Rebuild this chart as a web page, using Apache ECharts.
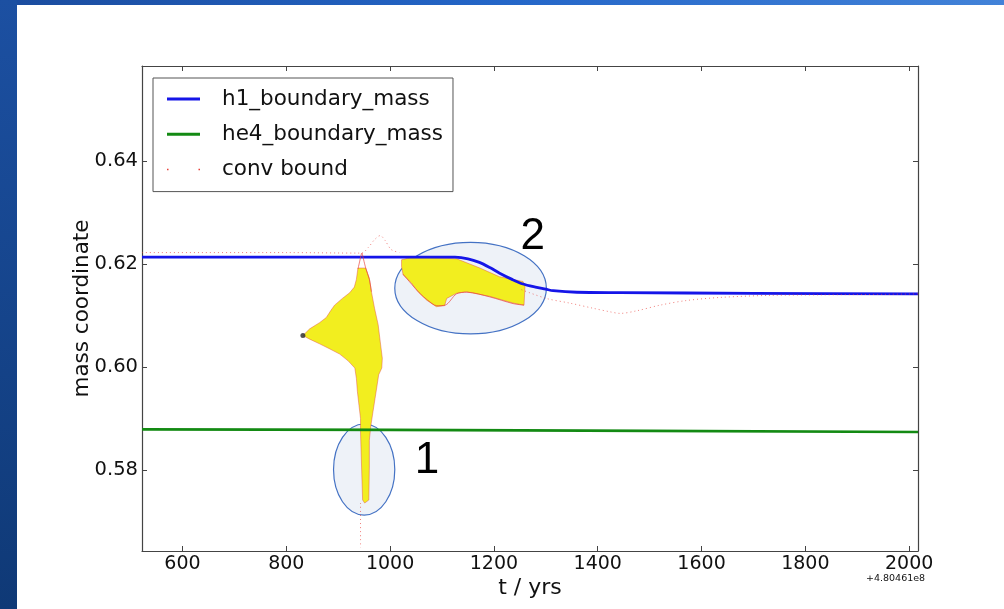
<!DOCTYPE html>
<html><head><meta charset="utf-8">
<script src="https://cdn.jsdelivr.net/npm/echarts@6/dist/echarts.min.js"></script>
<style>html,body{margin:0;padding:0;background:#fff}#c{width:1004px;height:609px}</style>
</head><body><div id="c"></div>
<script>
const xTicks = [600, 800, 1000, 1200, 1400, 1600, 1800, 2000];
const yTicks = [0.58, 0.60, 0.62, 0.64];
const xRange = [522, 2017];
const yRange = [0.5643, 0.6584];

const h1Boundary = [[522,0.6213],[900,0.6213],[1125,0.6213],[1150,0.6210],[1172,0.6203],[1192,0.6193],[1211,0.6182],[1235,0.6170],[1256,0.6161],[1280,0.6155],[1300,0.6151],[1314,0.6148],[1360,0.6145],[1443,0.61443],[1700,0.6143],[2017,0.6142]];
const he4Boundary = [[522,0.5879],[1000,0.5878],[1500,0.5876],[2017,0.5874]];

const convBoundFlat = [[522,0.6222],[800,0.6222],[945,0.6221],[958,0.6232],[970,0.6247],[981,0.6255],[990,0.6246],[1002,0.6228],[1018,0.6222]];
const convBoundApexL = [[945,0.6221],[938,0.6190]];
const convBoundApexR = [[946,0.6221],[953,0.6192],[960,0.6170],[964,0.6146]];
const convBoundLower2 = [[1025,0.6180],[1042,0.6160],[1056,0.6144],[1072,0.6130],[1090,0.6119],[1106,0.6120],[1128,0.6142],[1148,0.6145],[1192,0.6136],[1237,0.6123],[1258,0.6120]];
const convBoundTail = [[1253,0.6150],[1301,0.6133],[1346,0.6124],[1391,0.6114],[1424,0.6107],[1443,0.6104],[1475,0.6109],[1520,0.6120],[1571,0.6129],[1636,0.6135],[1732,0.6139],[1829,0.6140],[1957,0.6141],[2017,0.6142]];
const convBoundColumn = [[943,0.5736],[943,0.5650]];
const convCore = [[832,0.6061]];

const convRegion1 = [[953,0.6192],[960,0.6172],[964,0.6146],[970,0.6114],[977,0.6082],[981,0.6049],[985,0.6017],[984,0.5998],[978,0.5985],[975,0.5965],[971,0.5939],[967,0.5913],[963,0.5887],[960,0.5858],[960,0.5806],[959,0.5742],[951,0.5736],[947,0.5742],[945,0.5806],[943,0.5874],[943,0.5900],[940,0.5926],[937,0.5952],[935,0.5978],[932,0.5998],[919,0.6012],[903,0.6025],[884,0.6035],[864,0.6045],[845,0.6054],[832,0.6061],[845,0.6074],[864,0.6086],[877,0.6096],[886,0.6110],[893,0.6120],[908,0.6133],[922,0.6144],[931,0.6155],[935,0.6170],[938,0.6192]];
const convRegion2 = [[1022,0.6208],[1038,0.6212],[1076,0.6212],[1128,0.6210],[1173,0.6192],[1211,0.6175],[1256,0.6166],[1260,0.6159],[1258,0.6120],[1237,0.6124],[1192,0.6137],[1147,0.6146],[1128,0.6143],[1109,0.6133],[1105,0.6119],[1089,0.6117],[1070,0.6130],[1054,0.6146],[1041,0.6163],[1025,0.6179],[1022,0.6195]];

const highlightRegions = [
  {cx: 950, cy: 0.5801, rx: 59, ry: 0.00884, label: '1', lx: 1071, ly: 0.5818},
  {cx: 1155, cy: 0.6153, rx: 146, ry: 0.00889, label: '2', lx: 1275, ly: 0.6252}
];

const chart = echarts.init(document.getElementById('c'), null, {renderer: 'canvas'});
const AX = '#444';
const TXT = '#111';
const FONT = "'DejaVu Sans', sans-serif";

function polygonSeries(name, pts) {
  return {
    type: 'custom', name: name, z: 2, silent: true,
    data: [pts[0]],
    renderItem: function (params, api) {
      const points = pts.map(p => api.coord(p));
      return {type: 'polygon', shape: {points: points},
        style: {fill: '#f2ee1f', stroke: 'rgba(225,70,70,0.55)', lineWidth: 0.8, lineJoin: 'round'}};
    }
  };
}

const option = {
  backgroundColor: '#fff',
  animation: false,
  grid: {left: 142, top: 66, right: 86, bottom: 58, containLabel: false},
  legend: {
    left: 153, top: 78, orient: 'vertical',
    padding: [8, 10, 9, 14],
    backgroundColor: '#fff', borderColor: '#555', borderWidth: 1,
    itemWidth: 33, itemHeight: 3, itemGap: 9.3,
    textStyle: {fontFamily: FONT, fontSize: 21.5, color: TXT, lineHeight: 26, padding: [0, 0, 0, 17]},
    data: [
      {name: 'h1_boundary_mass', icon: 'rect'},
      {name: 'he4_boundary_mass', icon: 'rect'},
      {name: 'conv bound', icon: 'path://M0,0h1.5v1.5h-1.5z M31,0h1.5v1.5h-1.5z'}
    ],
    selectedMode: false
  },
  xAxis: [{
    type: 'value', min: xRange[0], max: xRange[1], position: 'bottom',
    axisLine: {show: true, lineStyle: {color: AX, width: 1.2}},
    axisTick: {show: true, inside: true, length: 5, customValues: xTicks, lineStyle: {color: AX}},
    axisLabel: {customValues: xTicks, formatter: v => String(v), fontFamily: FONT, fontSize: 19, color: TXT, margin: 4},
    splitLine: {show: false},
    name: 't / yrs', nameLocation: 'middle', nameGap: 26, nameMoveOverlap: false,
    nameTextStyle: {fontFamily: FONT, fontSize: 22, color: TXT}
  }, {
    type: 'value', min: xRange[0], max: xRange[1], position: 'top',
    axisLine: {show: true, lineStyle: {color: AX, width: 1.2}},
    axisTick: {show: true, inside: true, length: 5, customValues: xTicks, lineStyle: {color: AX}},
    axisLabel: {show: false}, splitLine: {show: false}
  }],
  yAxis: [{
    type: 'value', min: yRange[0], max: yRange[1], position: 'left',
    axisLine: {show: true, lineStyle: {color: AX, width: 1.2}},
    axisTick: {show: true, inside: true, length: 5, customValues: yTicks, lineStyle: {color: AX}},
    axisLabel: {customValues: yTicks, formatter: v => v.toFixed(2), fontFamily: FONT, fontSize: 19.5, color: TXT, margin: 4},
    splitLine: {show: false},
    name: 'mass coordinate', nameLocation: 'middle', nameGap: 49, nameMoveOverlap: false,
    nameTextStyle: {fontFamily: FONT, fontSize: 21.5, color: TXT}
  }, {
    type: 'value', min: yRange[0], max: yRange[1], position: 'right',
    axisLine: {show: true, lineStyle: {color: AX, width: 1.2}},
    axisTick: {show: true, inside: true, length: 5, customValues: yTicks, lineStyle: {color: AX}},
    axisLabel: {show: false}, splitLine: {show: false}
  }],
  graphic: [
    {type: 'rect', left: 0, top: 0, shape: {width: 1004, height: 5}, z: 100,
      style: {fill: {type: 'linear', x: 0, y: 0, x2: 1, y2: 0, colorStops: [{offset: 0, color: '#1b4c9e'}, {offset: 0.5, color: '#2466c8'}, {offset: 1, color: '#4282d8'}]}}},
    {type: 'rect', left: 0, top: 0, shape: {width: 17, height: 609}, z: 100,
      style: {fill: {type: 'linear', x: 0, y: 0, x2: 0, y2: 1, colorStops: [{offset: 0, color: '#1c50a2'}, {offset: 1, color: '#0f3976'}]}}},
    {type: 'text', left: 866, top: 574, z: 100,
      style: {text: '+4.80461e8', font: "9.5px " + FONT, fill: TXT}}
  ],
  series: [
    {
      type: 'custom', name: 'highlight', z: 1, silent: true,
      data: highlightRegions.map(h => [h.cx, h.cy]),
      renderItem: function (params, api) {
        const h = highlightRegions[params.dataIndex];
        const c = api.coord([h.cx, h.cy]);
        const s = api.size([h.rx, h.ry]);
        return {type: 'ellipse', shape: {cx: c[0], cy: c[1], rx: s[0], ry: s[1]},
          style: {fill: '#eef2f8', stroke: '#4472c4', lineWidth: 1.2}};
      }
    },
    polygonSeries('region1', convRegion1),
    polygonSeries('region2', convRegion2),
    {type: 'line', name: 'he4_boundary_mass', data: he4Boundary, showSymbol: false, symbol: 'none', z: 3,
      lineStyle: {color: '#138a13', width: 2.6}, itemStyle: {color: '#138a13'}},
    {type: 'line', name: 'h1_boundary_mass', data: h1Boundary, showSymbol: false, symbol: 'none', smooth: 0.3, z: 3,
      lineStyle: {color: '#1515e8', width: 2.8}, itemStyle: {color: '#1515e8'}},
    ...[convBoundFlat, convBoundApexL, convBoundApexR, convBoundLower2, convBoundTail, convBoundColumn].map((d, i) => ({
      type: 'line', name: 'conv bound', data: d, showSymbol: false, symbol: 'none', smooth: 0.3, z: 3,
      lineStyle: {color: '#e8403a', width: 0.9, type: i === 0 || i === 4 || i === 5 ? [1, 3] : 'solid', opacity: 0.75},
      itemStyle: {color: '#e8403a'}
    })),
    {type: 'scatter', name: 'core', data: convCore, symbolSize: 5, z: 3, itemStyle: {color: '#333', opacity: 0.85}},
    {
      type: 'custom', name: 'labels', z: 4, silent: true,
      data: highlightRegions.map(h => [h.lx, h.ly]),
      renderItem: function (params, api) {
        const h = highlightRegions[params.dataIndex];
        const c = api.coord([h.lx, h.ly]);
        return {type: 'text', x: c[0], y: c[1],
          style: {text: h.label, font: "44px 'Liberation Sans', Arial, sans-serif", fill: '#000', align: 'center', verticalAlign: 'middle'}};
      }
    }
  ]
};
chart.setOption(option);
</script>
</body></html>
